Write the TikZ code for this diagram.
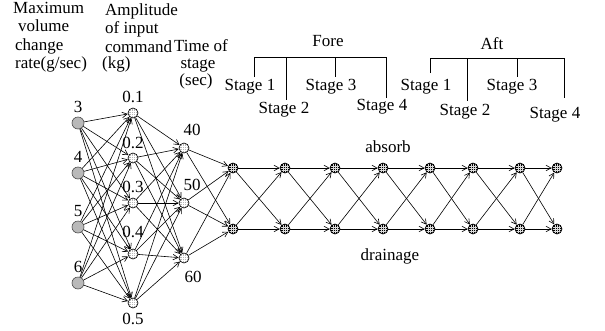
\documentclass[tikz,border=0pt]{standalone}
\usepackage{fontspec}
\setmainfont{Liberation Serif}
\usetikzlibrary{arrows.meta}
\begin{document}
\begin{tikzpicture}[x=1pt,y=-1pt,
  every node/.style={font=\fontsize{17}{19}\selectfont},
  txt/.style={inner sep=0pt, anchor=base west},
  ctxt/.style={inner sep=0pt},
  arr/.style={line width=0.6pt, -{Straight Barb[length=5pt,width=5.5pt]}, shorten >=0.2pt},
  src/.style={circle, draw=black!70, line width=0.6pt, fill=gray!55, minimum size=12pt, inner sep=0pt},
  amp/.style={circle, inner sep=0pt, minimum size=10pt},
  stg/.style={circle, inner sep=0pt, minimum size=10pt},
  hatchline/.style={line width=0.3pt},
  bracket/.style={line width=0.7pt}
]
\useasboundingbox (0,0) rectangle (605,330);

% column headings
\node[txt] at (13,13) {Maximum};
\node[txt] at (18,31) {volume};
\node[txt] at (15,50) {change};
\node[txt] at (15,68) {rate(g/sec)};

\node[txt] at (105,15) {Amplitude};
\node[txt] at (105,33) {of input};
\node[txt] at (105,52) {command};
\node[txt] at (102,68) {(kg)};

\node[ctxt, anchor=base] at (201,51) {Time of};
\node[ctxt, anchor=base] at (198,68) {stage};
\node[ctxt, anchor=base] at (196,85) {(sec)};

% maximum volume change rate
\foreach \n/\y/\v in {1/123/3, 2/173/4, 3/227/5, 4/283/6}{
  \node[src] (r\n) at (78,\y) {};
  \node[ctxt] (rl\n) at (78,\y-16) {\v};
}
% amplitude of input command
\foreach \n/\y in {1/113, 2/158, 3/203, 4/254, 5/303}{
  \node[amp] (a\n) at (133,\y) {};
}
\node[ctxt] (al1) at (133,97) {0.1};
\node[ctxt] (al2) at (133,143) {0.2};
\node[ctxt] (al3) at (133,187) {0.3};
\node[ctxt] (al4) at (133,232) {0.4};
\node[ctxt] (al5) at (133,319) {0.5};
% time of stage
\foreach \n/\y in {1/148, 2/203, 3/258}{
  \node[amp] (s\n) at (184,\y) {};
}
\node[ctxt] (sl1) at (192,130) {40};
\node[ctxt] (sl2) at (192,185) {50};
\node[ctxt] (sl3) at (193,277) {60};

% stage chain
\foreach \n/\x in {1/233, 2/285, 3/335, 4/383, 5/430, 6/473, 7/520, 8/557}{
  \node[stg] (t\n) at (\x,168) {};
  \node[stg] (b\n) at (\x,229) {};
}
\node[ctxt] (absorb) at (388,147) {absorb};
\node[ctxt] (drain) at (390,256) {drainage};

% filled discs with cross-hatching
\foreach \nd/\col/\hc in {a1/gray!55/white,a2/gray!55/white,a3/gray!55/white,a4/gray!55/white,a5/gray!55/white,
                      s1/gray!55/white,s2/gray!55/white,s3/gray!55/white,
                      t1/black/gray!30,t2/black/gray!30,t3/black/gray!30,t4/black/gray!30,
                      t5/black/gray!30,t6/black/gray!30,t7/black/gray!30,t8/black/gray!30,
                      b1/black/gray!30,b2/black/gray!30,b3/black/gray!30,b4/black/gray!30,
                      b5/black/gray!30,b6/black/gray!30,b7/black/gray!30,b8/black/gray!30}{
  \fill[\col] (\nd.center) circle (5pt);
  \begin{scope}
    \clip (\nd.center) circle (4.6pt);
    \foreach \d in {-1.8,0,1.8}{
      \draw[hatchline, \hc] ([xshift=\d pt]\nd.center) ++(0,-6) -- ++(0,12);
      \draw[hatchline, \hc] ([yshift=\d pt]\nd.center) ++(-6,0) -- ++(12,0);
    }
  \end{scope}
  \draw[black, line width=0.6pt] (\nd.center) circle (5pt);
}

% connections
\foreach \i in {1,...,4}{
  \foreach \j in {1,...,5}{
    \draw[arr] (r\i) -- (a\j);
  }
}
\foreach \i in {1,...,5}{
  \foreach \j in {1,...,3}{
    \draw[arr] (a\i) -- (s\j);
  }
}
\foreach \i in {1,...,3}{
  \draw[arr] (s\i) -- (t1);
  \draw[arr] (s\i) -- (b1);
}
\foreach \i [evaluate=\i as \j using int(\i+1)] in {1,...,7}{
  \draw[arr] (t\i) -- (t\j);
  \draw[arr] (b\i) -- (b\j);
  \draw[arr] (t\i) -- (b\j);
  \draw[arr] (b\i) -- (t\j);
}

% Fore stages
\node[ctxt] (fore) at (328,41) {Fore};
\draw[bracket] (254,77) -- (254,57) -- (386,57) -- (386,98);
\draw[bracket] (286,57) -- (286,100);
\draw[bracket] (335,57) -- (335,77);
\node[ctxt] (f1) at (250,87) {Stage 1};
\node[ctxt] (f2) at (284,110) {Stage 2};
\node[ctxt] (f3) at (331,87) {Stage 3};
\node[ctxt] (f4) at (382,107) {Stage 4};

% Aft stages
\node[ctxt] (aft) at (492,44) {Aft};
\draw[bracket] (430,73) -- (430,58) -- (564,58) -- (564,98);
\draw[bracket] (467,58) -- (467,101);
\draw[bracket] (517,58) -- (517,77);
\node[ctxt] (g1) at (426,87) {Stage 1};
\node[ctxt] (g2) at (465,112) {Stage 2};
\node[ctxt] (g3) at (512,87) {Stage 3};
\node[ctxt] (g4) at (555,115) {Stage 4};
\end{tikzpicture}
\end{document}
